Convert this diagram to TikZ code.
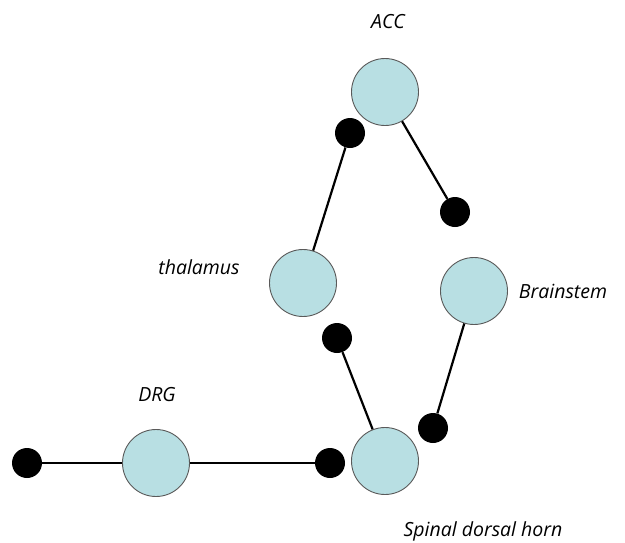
\documentclass[tikz,border=0pt]{standalone}
\usepackage{fontspec}
\setmainfont{Open Sans}
\definecolor{cellfill}{HTML}{B8DFE3}
\definecolor{celledge}{HTML}{5A5A5A}
\tikzset{
  cell/.style={circle, fill=cellfill, draw=celledge, line width=0.9pt, minimum size=67pt, inner sep=0pt},
  term/.style={circle, fill=black, minimum size=30pt, inner sep=0pt},
  link/.style={line width=2.2pt, black},
  lbl/.style={font=\itshape\fontsize{19.5}{23}\selectfont, inner sep=0pt}
}
\begin{document}
\begin{tikzpicture}[x=1pt,y=-1pt]
\useasboundingbox (0,0) rectangle (625,542);
% cells
\node[cell] (acc) at (385,92) {};
\node[cell] (thal) at (303,283) {};
\node[cell] (brain) at (474,291) {};
\node[cell] (drg) at (156,463) {};
\node[cell] (sdh) at (385,461) {};
% terminals
\node[term] (t1) at (350,133) {};
\node[term] (t2) at (455,212) {};
\node[term] (t3) at (337,338) {};
\node[term] (t4) at (433,428) {};
\node[term] (t5) at (27,463) {};
\node[term] (t6) at (330,463) {};
% connectors
\draw[link] (thal) -- (t1);
\draw[link] (acc) -- (t2);
\draw[link] (sdh) -- (t3);
\draw[link] (brain) -- (t4);
\draw[link] (t5) -- (drg);
\draw[link] (drg) -- (t6);
% labels
\node[lbl] (lacc) at (388,22) {ACC};
\node[lbl] (lthal) at (199,267) {thalamus};
\node[lbl] (lbrain) at (563,291) {Brainstem};
\node[lbl] (ldrg) at (157,395) {DRG};
\node[lbl] (lsdh) at (483,531) {Spinal dorsal horn};
\end{tikzpicture}
\end{document}
